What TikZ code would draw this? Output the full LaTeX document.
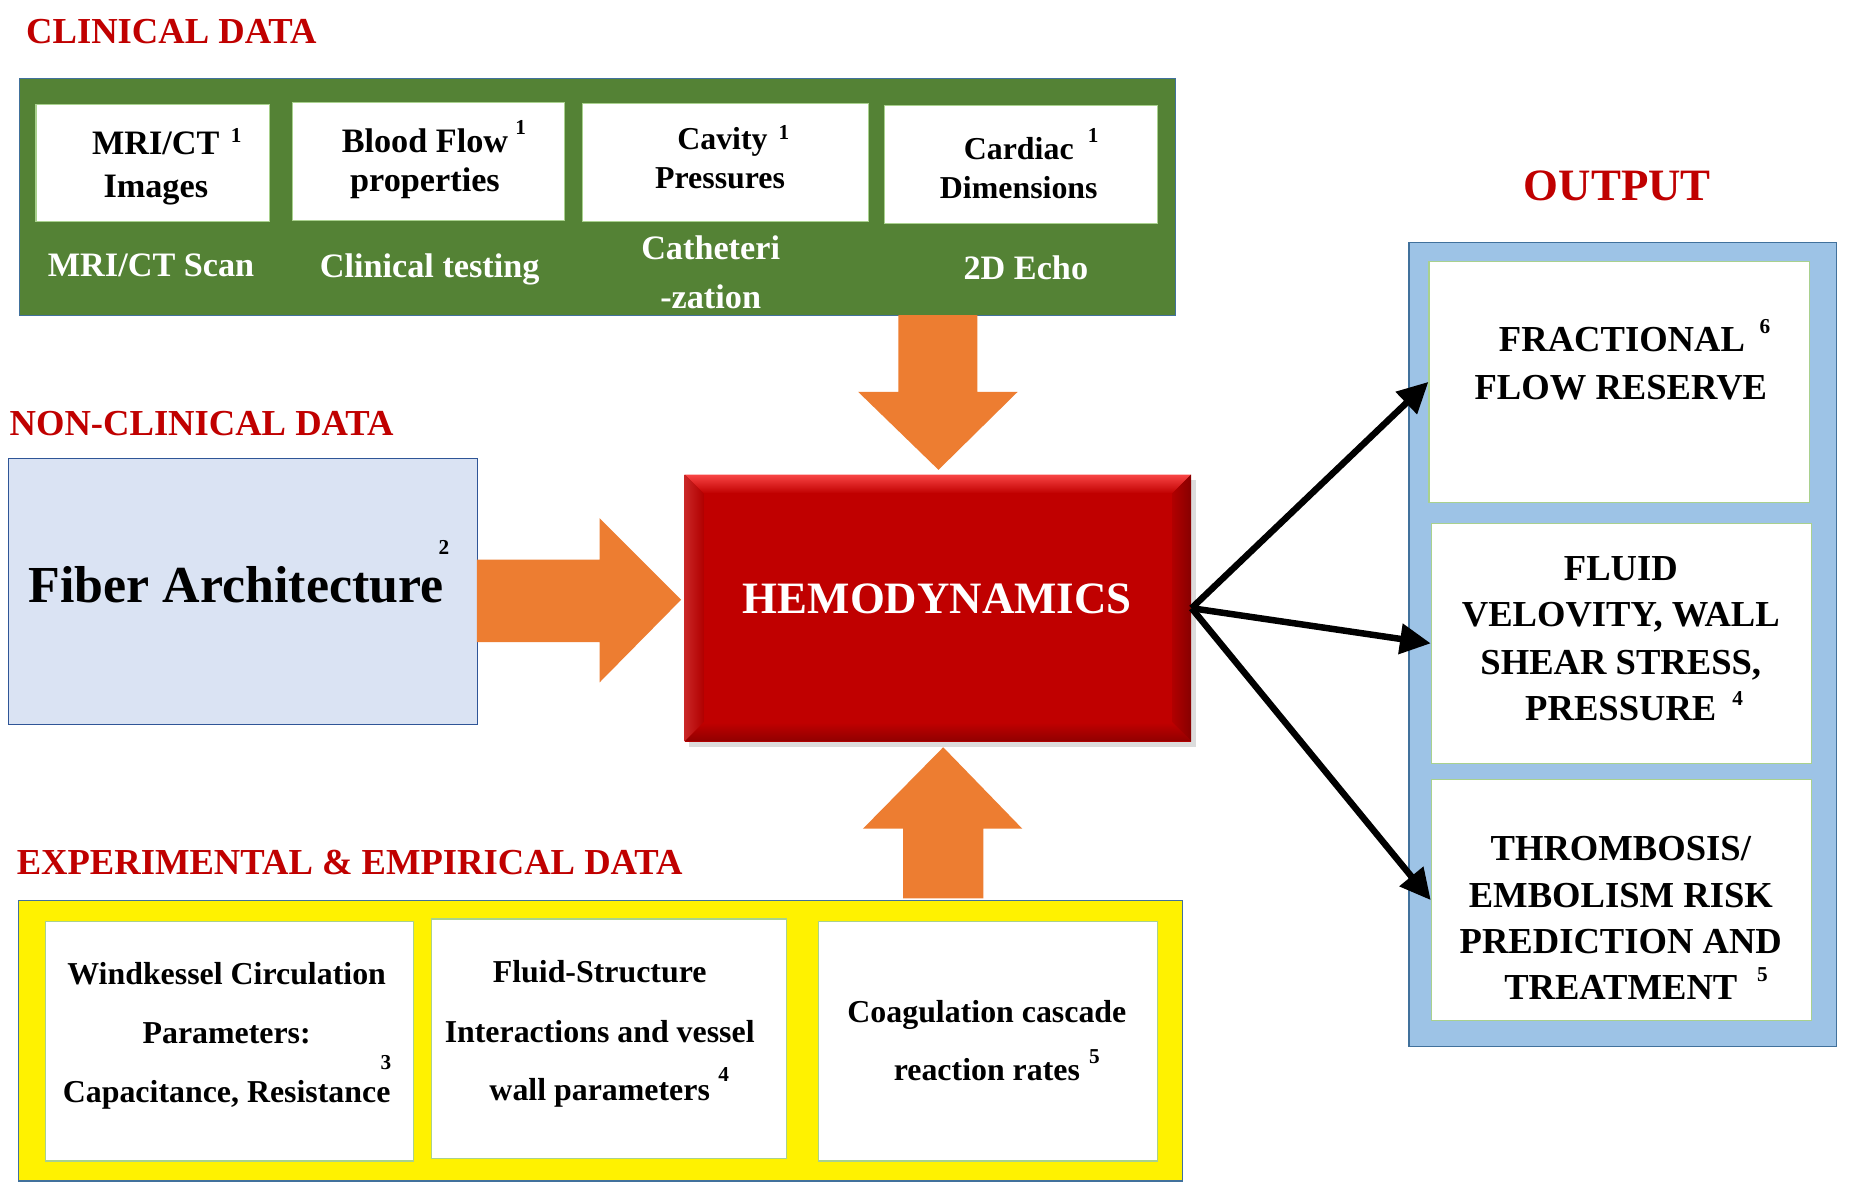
\documentclass[tikz,border=0pt]{standalone}
\usepackage{fontspec}
\setmainfont{Liberation Serif}
\usetikzlibrary{arrows.meta}
\definecolor{hred}{HTML}{C00000}
\definecolor{ggreen}{HTML}{548235}
\definecolor{bord}{HTML}{41719C}
\definecolor{orng}{HTML}{ED7D31}
\definecolor{lblue}{HTML}{DAE3F3}
\definecolor{dblue}{HTML}{2F5597}
\definecolor{oblue}{HTML}{9DC3E6}
\definecolor{ibord}{HTML}{A9D18E}
\newcommand{\fsz}[1]{\fontsize{#1}{#1}\selectfont\bfseries}
\begin{document}
\begin{tikzpicture}[x=1pt,y=-1pt,
  box/.style={draw, inner sep=0, anchor=north west},
  wbox/.style={box, fill=white, draw=ibord, line width=1pt},
  lbl/.style={inner sep=0, anchor=base},
  head/.style={inner sep=0, anchor=base west, text=hred, font=\fsz{31}},
  gin/.style={lbl, font=\fsz{29}},
  gin2/.style={lbl, font=\fsz{27}},
  gsub/.style={lbl, text=white, font=\fsz{29}},
  yin/.style={lbl, font=\fsz{27}},
  oin/.style={lbl, font=\fsz{31}},
  sup/.style={inner sep=0, anchor=center, font=\fsz{18}},
  oarr/.style={fill=orng, draw=none},
  blk/.style={line width=5.5pt, -{Triangle[length=26pt,width=25pt]}}]
\useasboundingbox (0,0) rectangle (1568,1014);
\fill[white] (0,0) rectangle (1568,1014);

% ---------- headings
\node[head] (hclin) at (22,37) {CLINICAL DATA};
\node[head] (hnon) at (8,369) {NON-CLINICAL DATA};
\node[head] (hexp) at (14,741) {EXPERIMENTAL \& EMPIRICAL DATA};
\node[lbl, text=hred, font=\fsz{38}] (hout) at (1370,170) {OUTPUT};

% ---------- clinical data
\node[box, fill=ggreen, draw=bord, line width=1pt, minimum width=979pt, minimum height=201pt] (green) at (16,66) {};
\node[wbox, minimum width=198pt, minimum height=99pt] (g1) at (30,88) {};
\node[wbox, minimum width=231pt, minimum height=100pt] (g2) at (247,86) {};
\node[wbox, minimum width=242pt, minimum height=100pt] (g3) at (493,87) {};
\node[wbox, minimum width=231pt, minimum height=100pt] (g4) at (749,89) {};

\node[gin] (g1a) at (132,131) {MRI/CT};
\node[gin] (g1b) at (132,167) {Images};
\node[sup] (g1s) at (200,115) {1};
\node[gin] (g2a) at (360,129) {Blood Flow};
\node[gin] (g2b) at (360,162) {properties};
\node[sup] (g2s) at (441,108) {1};
\node[gin2] (g3a) at (612,127) {Cavity};
\node[gin2] (g3b) at (610,160) {Pressures};
\node[sup] (g3s) at (664,112) {1};
\node[gin2] (g4a) at (863,135) {Cardiac};
\node[gin2] (g4b) at (863,168) {Dimensions};
\node[sup] (g4s) at (926,115) {1};

\node[gsub] (s1) at (128,234) {MRI/CT Scan};
\node[gsub] (s2) at (364,235) {Clinical testing};
\node[gsub] (s3a) at (602,220) {Catheteri};
\node[gsub] (s3b) at (602,261) {-zation};
\node[gsub] (s4) at (869,237) {2D Echo};

% ---------- fiber architecture
\node[box, fill=lblue, draw=dblue, line width=1pt, minimum width=397pt, minimum height=225pt] (fiber) at (7,388) {};
\node[inner sep=0, anchor=base west, font=\fsz{44}] (fibt) at (24,510) {Fiber Architecture};
\node[sup] (fibs) at (376,464) {2};

% ---------- hemodynamics (bevelled)
\fill[black!30, opacity=0.45] (584,407) rectangle (1013,633);
\node[box, fill=hred, draw=none, minimum width=429pt, minimum height=226pt] (hemo) at (580,402) {};
\shade[top color=red!70!white!90!hred, bottom color=hred] (580,402) -- (1009,402) -- (993,418) -- (596,418) -- cycle;
\shade[left color=hred!85!white, right color=hred!92!black] (580,402) -- (596,418) -- (596,612) -- (580,628) -- cycle;
\shade[left color=hred!92!black, right color=hred!70!black] (1009,402) -- (1009,628) -- (993,612) -- (993,418) -- cycle;
\shade[top color=hred, bottom color=hred!75!black] (580,628) -- (596,612) -- (993,612) -- (1009,628) -- cycle;
\node[lbl, text=white, font=\fsz{38}] (hemot) at (794,520) {HEMODYNAMICS};

% ---------- orange arrows
\fill[oarr] (761,267) -- (828,267) -- (828,332) -- (862,332) -- (795,398) -- (727,332) -- (761,332) -- cycle;
\fill[oarr] (404,474) -- (508,474) -- (508,439) -- (577,508) -- (508,578) -- (508,544) -- (404,544) -- cycle;
\fill[oarr] (765,761) -- (765,702) -- (731,702) -- (799,633) -- (866,702) -- (833,702) -- (833,761) -- cycle;

% ---------- experimental data
\node[box, fill=yellow, draw=bord, line width=1pt, minimum width=986pt, minimum height=238pt] (yel) at (15,762) {};
\node[wbox, minimum width=312pt, minimum height=203pt] (y1) at (38,780) {};
\node[wbox, minimum width=301pt, minimum height=203pt] (y2) at (365,778) {};
\node[wbox, minimum width=287pt, minimum height=203pt] (y3) at (693,780) {};

\node[yin] (y1a) at (192,834) {Windkessel Circulation};
\node[yin] (y1b) at (192,884) {Parameters:};
\node[yin] (y1c) at (192,934) {Capacitance, Resistance};
\node[sup] (y1s) at (327,900) {3};
\node[yin] (y2a) at (508,832) {Fluid-Structure};
\node[yin] (y2b) at (508,883) {Interactions and vessel};
\node[yin] (y2c) at (508,932) {wall parameters};
\node[sup] (y2s) at (613,910) {4};
\node[yin] (y3a) at (836,866) {Coagulation cascade};
\node[yin] (y3b) at (836,915) {reaction rates};
\node[sup] (y3s) at (927,895) {5};

% ---------- output
\node[box, fill=oblue, draw=bord, line width=1pt, minimum width=362pt, minimum height=681pt] (outb) at (1193,205) {};
\node[wbox, minimum width=322pt, minimum height=204pt] (o1) at (1210,221) {};
\node[wbox, minimum width=322pt, minimum height=203pt] (o2) at (1212,443) {};
\node[wbox, minimum width=322pt, minimum height=204pt] (o3) at (1212,660) {};

\node[oin] (o1a) at (1374,298) {FRACTIONAL};
\node[oin] (o1b) at (1373,338) {FLOW RESERVE};
\node[sup] (o1s) at (1495,277) {6};
\node[oin] (o2a) at (1373,492) {FLUID};
\node[oin] (o2b) at (1373,531) {VELOVITY, WALL};
\node[oin] (o2c) at (1373,571) {SHEAR STRESS,};
\node[oin] (o2d) at (1373,610) {PRESSURE};
\node[sup] (o2s) at (1472,592) {4};
\node[oin] (o3a) at (1373,729) {THROMBOSIS/};
\node[oin] (o3b) at (1373,769) {EMBOLISM RISK};
\node[oin] (o3c) at (1373,808) {PREDICTION AND};
\node[oin] (o3d) at (1373,847) {TREATMENT};
\node[sup] (o3s) at (1493,826) {5};

% ---------- black arrows
\draw[blk] (hemo.east) -- (o1.west);
\draw[blk] (hemo.east) -- (o2.west);
\draw[blk] (hemo.east) -- (o3.west);
\end{tikzpicture}
\end{document}
